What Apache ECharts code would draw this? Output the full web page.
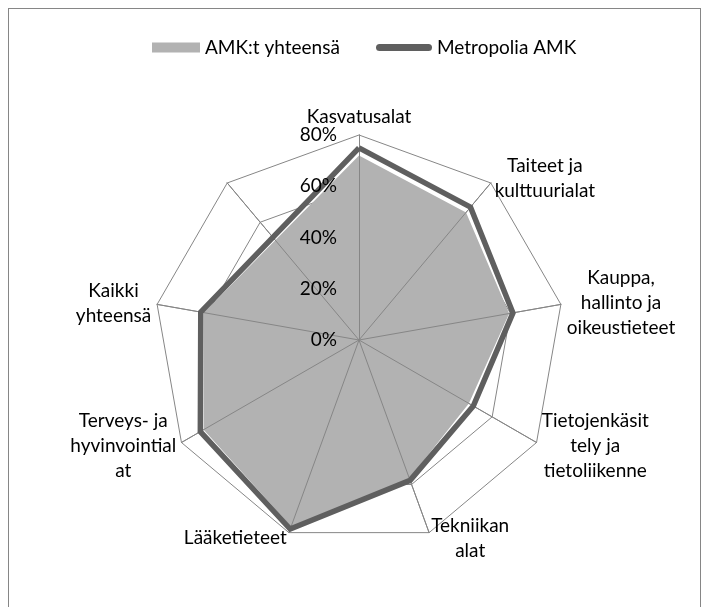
<!DOCTYPE html>
<html>
<head>
    <meta charset="utf-8">
    <title>AMK radar</title>
    <script src="https://cdn.jsdelivr.net/npm/echarts@6/dist/echarts.min.js"></script>
    <style>
        body { margin: 0; background: #fff; }
        #frame { position: absolute; left: 8px; top: 8px; width: 691px; height: 640px; border: 1px solid #868686; }
        #main { position: absolute; left: 0; top: 0; width: 708px; height: 607px; }
    </style>
</head>
<body>
    <div id="frame"></div>
    <div id="main"></div>

    <script>
        // luokat Excelin järjestyksessä (myötäpäivään ylhäältä)
        var categories = ['Kasvatusalat', 'Taiteet ja\nkulttuurialat', 'Kauppa,\nhallinto ja\noikeustieteet',
            'Tietojenkäsit\ntely ja\ntietoliikenne', 'Tekniikan\nalat', 'Lääketieteet',
            'Terveys- ja\nhyvinvointial\nat', 'Kaikki\nyhteensä', ''];
        var amkValues = [72, 65, 59.5, 49.5, 57.5, 77.5, 70, 61.5, 50.8];
        var metropoliaValues = [75, 67.7, 61, 51.5, 58.3, 78.5, 71.5, 62.7, 52.3];
        var seriesNames = ['AMK:t yhteensä', 'Metropolia AMK'];
        var axisMax = 80;

        var font = 'Lato';
        var fontSize = 19;
        var myChart = echarts.init(document.getElementById('main'));

        // echarts piirtää vastapäivään -> käännetään järjestys
        function toCcw(arr) {
            return [arr[0]].concat(arr.slice(1).reverse());
        }

        function makeIndicators(withLabel) {
            return toCcw(categories).map(function (name, i) {
                var ind = { name: name, min: 0, max: axisMax };
                if (withLabel && i === 0) ind.axisLabel = { show: true };
                return ind;
            });
        }

        var base = { center: [359, 340], radius: 205, startAngle: 90, splitNumber: 4, shape: 'polygon' };

        var option = {
            animation: false,
            legend: [
                {
                    data: [{ name: seriesNames[0], icon: 'rect' }],
                    left: 147, top: 33,
                    itemWidth: 48, itemHeight: 10,
                    textStyle: { fontFamily: font, fontSize: fontSize, color: '#000' }
                },
                {
                    data: [{ name: seriesNames[1], icon: 'path://M3.5,0 L52.5,0 A3.5,3.5 0 0 1 52.5,7 L3.5,7 A3.5,3.5 0 0 1 3.5,0 Z' }],
                    left: 371, top: 33,
                    itemWidth: 56, itemHeight: 7,
                    textStyle: { fontFamily: font, fontSize: fontSize, color: '#000' }
                }
            ],
            radar: [
                Object.assign({}, base, {
                    z: 0,
                    indicator: makeIndicators(false),
                    axisName: {
                        color: '#000',
                        formatter: function (name) {
                            return name.split('\n').map(function (l) { return '{c|' + l + '}'; }).join('\n');
                        },
                        rich: {
                            c: { align: 'center', color: '#000', fontFamily: font, fontSize: fontSize, lineHeight: 25 }
                        }
                    },
                    nameGap: 6,
                    axisLine: { lineStyle: { color: '#868686', width: 1 } },
                    splitLine: { lineStyle: { color: '#868686', width: 1 } },
                    splitArea: { show: false },
                    axisTick: { show: false },
                    axisLabel: { show: false }
                }),
                // akselit täytön päälle
                Object.assign({}, base, {
                    z: 3,
                    indicator: makeIndicators(false),
                    axisName: { show: false },
                    axisLine: { lineStyle: { color: '#868686', width: 1 } },
                    splitLine: { show: false },
                    splitArea: { show: false },
                    axisTick: { show: false },
                    axisLabel: { show: false }
                }),
                // prosenttiluvut kaiken päälle
                Object.assign({}, base, {
                    z: 10,
                    indicator: makeIndicators(true),
                    axisName: { show: false },
                    axisLine: { show: false },
                    splitLine: { show: false },
                    splitArea: { show: false },
                    axisTick: { show: false },
                    axisLabel: {
                        show: false, margin: 22, color: '#000',
                        fontFamily: font, fontSize: fontSize,
                        formatter: '{value}%'
                    }
                })
            ],
            series: [
                {
                    name: seriesNames[0],
                    type: 'radar',
                    radarIndex: 0,
                    z: 2,
                    symbol: 'none',
                    itemStyle: { color: '#b2b2b2' },
                    lineStyle: { width: 0, color: '#b2b2b2' },
                    areaStyle: { color: '#b2b2b2', opacity: 1 },
                    data: [{ value: toCcw(amkValues), name: seriesNames[0] }]
                },
                {
                    name: seriesNames[1],
                    type: 'radar',
                    radarIndex: 0,
                    z: 4,
                    symbol: 'none',
                    itemStyle: { color: '#5f5f5f' },
                    lineStyle: { width: 5.5, color: '#5f5f5f', join: 'miter' },
                    data: [{ value: toCcw(metropoliaValues), name: seriesNames[1] }]
                }
            ]
        };

        myChart.setOption(option);
    </script>
</body>
</html>
